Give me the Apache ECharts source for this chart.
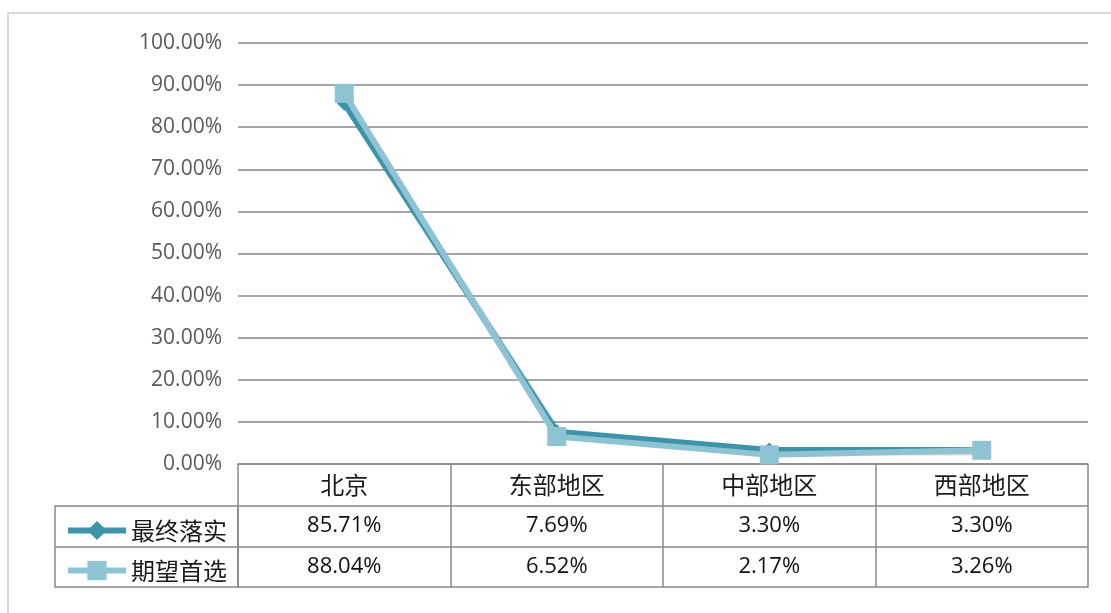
<!DOCTYPE html>
<html>
<head>
<meta charset="utf-8">
<script src="https://cdn.jsdelivr.net/npm/echarts@6/dist/echarts.min.js"></script>
<style>
html,body{margin:0;padding:0;background:#fff;}
#c{width:1111px;height:613px;}
</style>
</head>
<body>
<div id="c"></div>
<script>
var categories = ['北京', '东部地区', '中部地区', '西部地区'];
var seriesNames = ['最终落实', '期望首选'];
var finalValues = [85.71, 7.69, 3.30, 3.30];
var expectValues = [88.04, 6.52, 2.17, 3.26];
var yTicks = [0, 10, 20, 30, 40, 50, 60, 70, 80, 90, 100];

var fmt = function (v) { return v.toFixed(2) + '%'; };
var gridColor = '#898989';
var darkColor = '#3D93A8';
var lightColor = '#8EC3D4';
var numFont = 'Open Sans, Liberation Sans, sans-serif';
var cjkFont = 'Noto Sans CJK SC';

var chart = echarts.init(document.getElementById('c'));
chart.setOption({
  animation: false,
  grid: { left: 238, right: 23, top: 43, bottom: 149 },
  legend: {
    orient: 'vertical',
    left: 60,
    top: 513,
    itemWidth: 58,
    itemHeight: 24,
    itemGap: 15,
    data: seriesNames,
    lineStyle: { width: 6 },
    textStyle: { fontFamily: cjkFont, fontSize: 24, color: '#1a1a1a', lineHeight: 25 }
  },
  xAxis: [
    {
      type: 'category', data: categories, boundaryGap: true, position: 'bottom',
      axisLine: { show: true, lineStyle: { color: gridColor, width: 1.5 } },
      axisTick: { show: true, interval: 0, length: 123, lineStyle: { color: gridColor, width: 1.5 } },
      axisLabel: { interval: 0, margin: 9, fontFamily: cjkFont, fontSize: 24, color: '#1a1a1a' }
    },
    {
      type: 'category', data: finalValues.map(fmt), position: 'bottom', offset: 42,
      axisLine: { show: true, lineStyle: { color: gridColor, width: 1.5 } },
      axisTick: { show: false },
      axisLabel: { interval: 0, margin: 9, fontFamily: numFont, fontSize: 22, color: '#111' }
    },
    {
      type: 'category', data: expectValues.map(fmt), position: 'bottom', offset: 83,
      axisLine: { show: true, lineStyle: { color: gridColor, width: 1.5 } },
      axisTick: { show: false },
      axisLabel: { interval: 0, margin: 9, fontFamily: numFont, fontSize: 22, color: '#111' }
    },
    {
      type: 'category', data: categories, position: 'bottom', offset: 123,
      axisLine: { show: true, lineStyle: { color: gridColor, width: 1.5 } },
      axisTick: { show: false },
      axisLabel: { show: false }
    }
  ],
  yAxis: {
    type: 'value', min: yTicks[0], max: yTicks[yTicks.length - 1], interval: yTicks[1] - yTicks[0],
    axisLine: { show: false }, axisTick: { show: false },
    axisLabel: { formatter: fmt, margin: 16, fontFamily: numFont, fontSize: 21, color: '#595959' },
    splitLine: { lineStyle: { color: gridColor, width: 1.5 } }
  },
  graphic: [
    { type: 'rect', silent: true, shape: { x: 8, y: 13, width: 1200, height: 700 },
      style: { fill: null, stroke: '#d9d9d9', lineWidth: 2 }, z: -1 },
    { type: 'rect', silent: true, shape: { x: 55, y: 506, width: 183, height: 81 },
      style: { fill: null, stroke: gridColor, lineWidth: 1.5 } },
    { type: 'line', silent: true, shape: { x1: 55, y1: 547, x2: 238, y2: 547 },
      style: { stroke: gridColor, lineWidth: 1.5 } }
  ],
  series: [
    {
      name: seriesNames[0], type: 'line', data: finalValues,
      symbol: 'diamond', symbolSize: 15,
      lineStyle: { color: darkColor, width: 6, shadowColor: 'rgba(0,0,0,0.25)', shadowOffsetX: 2, shadowOffsetY: 2, shadowBlur: 2 },
      itemStyle: { color: darkColor },
      z: 2
    },
    {
      name: seriesNames[1], type: 'line', data: expectValues,
      symbol: 'rect', symbolSize: 19,
      lineStyle: { color: lightColor, width: 6 },
      itemStyle: { color: lightColor },
      z: 3
    }
  ]
});
</script>
</body>
</html>
